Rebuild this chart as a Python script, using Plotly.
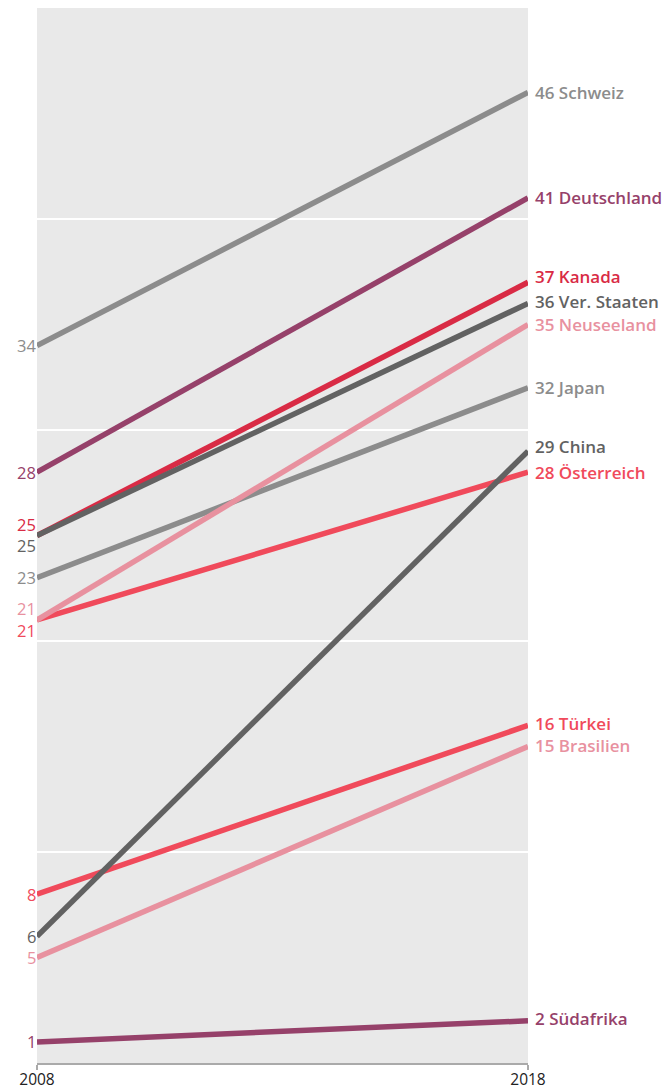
import plotly.graph_objects as go

countries = ["Schweiz", "Deutschland", "Kanada", "Ver. Staaten", "Neuseeland", "Japan",
             "China", "Österreich", "Türkei", "Brasilien", "Südafrika"]
v2008 = [34, 28, 25, 25, 21, 23, 6, 21, 8, 5, 1]
v2018 = [46, 41, 37, 36, 35, 32, 29, 28, 16, 15, 2]
colors = ["#8c8c8c", "#96416a", "#d92b45", "#626262", "#e8919f", "#8c8c8c",
          "#626262", "#f04a5b", "#f04a5b", "#e8919f", "#96416a"]
years = [2008, 2018]
# label nudges (px) to avoid overlaps
left_shift = [0, 0, 11, -10, 11, 0, 0, -11, 0, 0, 0]
right_shift = [0, 0, 6, 2, 0, 0, 5, 0, 2, 1, 2]

draw_order = [0, 1, 2, 3, 5, 7, 4, 8, 9, 6, 10]

fig = go.Figure()
for i in draw_order:
    fig.add_trace(go.Scatter(
        x=years, y=[v2008[i], v2018[i]], mode="lines",
        line=dict(color=colors[i], width=5.5), hoverinfo="skip", showlegend=False))

font_family = "Open Sans, Noto Sans, sans-serif"
for i in range(len(countries)):
    fig.add_annotation(x=2008, y=v2008[i], xref="x", yref="y", text=str(v2008[i]),
                       showarrow=False, xanchor="right", yanchor="middle", xshift=1,
                       yshift=left_shift[i],
                       font=dict(family=font_family, size=16.5, color=colors[i], weight=500))
    fig.add_annotation(x=2018, y=v2018[i], xref="x", yref="y",
                       text=f"{v2018[i]} {countries[i]}",
                       showarrow=False, xanchor="left", yanchor="middle", xshift=5,
                       yshift=right_shift[i],
                       font=dict(family=font_family, size=17, color=colors[i], weight=600))

fig.update_layout(
    width=664, height=1083,
    margin=dict(l=29, r=144, t=0, b=28),
    paper_bgcolor="white", plot_bgcolor="#e9e9e9",
    xaxis=dict(range=[2008, 2018], tickvals=years, ticktext=["2008", "2018"],
               automargin=False, ticklabelstandoff=-4,
               showgrid=False, zeroline=False, showline=True, linecolor="#aaaaaa",
               linewidth=2, ticks="outside", ticklen=5, tickcolor="#aaaaaa", tickwidth=2,
               tickfont=dict(family=font_family, size=15.5, color="#222222")),
    yaxis=dict(range=[0, 50], tickvals=[10, 20, 30, 40], showticklabels=False,
               automargin=False,
               showgrid=True, gridcolor="white", gridwidth=2, zeroline=False,
               showline=False),
)
fig.write_html("out.html")
